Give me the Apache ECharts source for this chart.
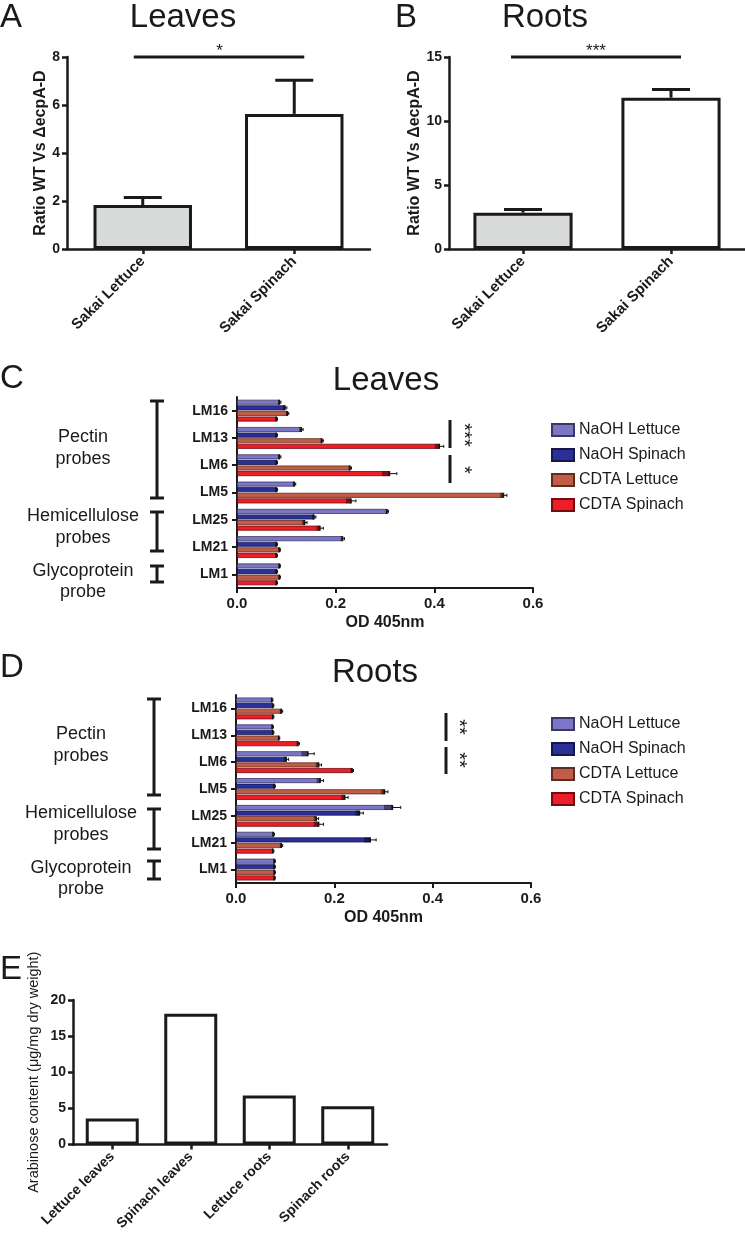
<!DOCTYPE html>
<html>
<head>
<meta charset="utf-8">
<script src="https://cdn.jsdelivr.net/npm/echarts@6/dist/echarts.min.js"></script>
<style>
html,body{margin:0;padding:0;background:#fff;}
#main{width:745px;height:1233px;}
</style>
</head>
<body>
<div id="main"></div>
<script>
// ---------- DATA ----------
const strainCats = ['Sakai Lettuce', 'Sakai Spinach'];
const leavesRatio = [1.83, 5.63];
const leavesRatioErr = [0.32, 1.40];
const rootsRatio = [2.84, 11.82];
const rootsRatioErr = [0.24, 0.64];

const probes = ['LM16', 'LM13', 'LM6', 'LM5', 'LM25', 'LM21', 'LM1'];
const extractNames = ['NaOH Lettuce', 'NaOH Spinach', 'CDTA Lettuce', 'CDTA Spinach'];

const leavesNaOHLettuce = [0.086, 0.130, 0.086, 0.116, 0.304, 0.214, 0.086];
const leavesNaOHSpinach = [0.097, 0.080, 0.080, 0.080, 0.156, 0.080, 0.080];
const leavesCDTALettuce = [0.102, 0.172, 0.229, 0.540, 0.137, 0.086, 0.086];
const leavesCDTASpinach = [0.080, 0.410, 0.309, 0.231, 0.168, 0.080, 0.080];
const leavesNaOHLettuceErr = [0.003, 0.004, 0.003, 0.003, 0.003, 0.004, 0.002];
const leavesNaOHSpinachErr = [0.004, 0.002, 0.002, 0.002, 0.004, 0.002, 0.002];
const leavesCDTALettuceErr = [0.003, 0.003, 0.003, 0.007, 0.005, 0.002, 0.002];
const leavesCDTASpinachErr = [0.002, 0.009, 0.015, 0.010, 0.007, 0.002, 0.002];

const rootsNaOHLettuce = [0.073, 0.074, 0.146, 0.171, 0.318, 0.076, 0.078];
const rootsNaOHSpinach = [0.075, 0.075, 0.102, 0.078, 0.251, 0.273, 0.078];
const rootsCDTALettuce = [0.092, 0.087, 0.168, 0.302, 0.163, 0.092, 0.078];
const rootsCDTASpinach = [0.075, 0.126, 0.236, 0.221, 0.168, 0.075, 0.078];
const rootsNaOHLettuceErr = [0.002, 0.002, 0.013, 0.007, 0.017, 0.002, 0.002];
const rootsNaOHSpinachErr = [0.002, 0.002, 0.005, 0.002, 0.008, 0.012, 0.002];
const rootsCDTALettuceErr = [0.003, 0.002, 0.006, 0.007, 0.005, 0.003, 0.002];
const rootsCDTASpinachErr = [0.002, 0.003, 0.003, 0.007, 0.010, 0.002, 0.002];

const tissueCats = ['Lettuce leaves', 'Spinach leaves', 'Lettuce roots', 'Spinach roots'];
const arabinose = [3.6, 18.08, 6.77, 5.29];

const odTicks = ['0.0', '0.2', '0.4', '0.6'];

// ---------- STYLE ----------
const FONT = "'Liberation Sans', Arial, Helvetica, sans-serif";
const INK = '#1a1a1a';
const extractColors = ['#7b77c6', '#2b2f98', '#c15d47', '#ee1d26'];
const extractBorders = ['#3b3963', '#15174a', '#5e2c22', '#6e0e12'];
const BARW = 5, GAPPCT = 0.12;

const chart = echarts.init(document.getElementById('main'), null, {renderer: 'canvas'});

function axisLine(w) { return {show: true, lineStyle: {color: INK, width: w}}; }
function axisTick(w) { return {show: true, length: 5, lineStyle: {color: INK, width: w}, alignWithLabel: true}; }
const boldLbl = (s) => ({color: INK, fontFamily: FONT, fontWeight: 'bold', fontSize: s});

function vErrRender(params, api) {
  const cat = api.value(0), v = api.value(1), e = api.value(2);
  const top = api.coord([cat, v]);
  const hi = api.coord([cat, v + e]);
  const half = 19;
  return {type: 'group', children: [
    {type: 'line', shape: {x1: top[0], y1: top[1], x2: hi[0], y2: hi[1]}, style: {stroke: INK, lineWidth: 3}},
    {type: 'line', shape: {x1: hi[0] - half, y1: hi[1], x2: hi[0] + half, y2: hi[1]}, style: {stroke: INK, lineWidth: 3}}
  ]};
}

function hErrRender(params, api) {
  const cat = api.value(0), si = api.value(1), v = api.value(2), e = api.value(3);
  const gap = BARW * GAPPCT;
  const n = 4;
  const total = n * BARW + (n - 1) * gap;
  const c = api.coord([v, cat]);
  const lo = api.coord([v - e, cat]);
  const hi = api.coord([v + e, cat]);
  const top = c[1] - total / 2 + si * (BARW + gap);
  const yc = top + BARW / 2;
  return {type: 'group', children: [
    {type: 'rect', shape: {x: lo[0], y: top, width: c[0] - lo[0], height: BARW}, style: {fill: 'rgba(0,0,0,0.45)'}},
    {type: 'line', shape: {x1: c[0], y1: yc, x2: hi[0], y2: yc}, style: {stroke: '#111', lineWidth: 1}},
    {type: 'line', shape: {x1: hi[0], y1: yc - 1.5, x2: hi[0], y2: yc + 1.5}, style: {stroke: '#111', lineWidth: 1}},
    {type: 'line', shape: {x1: c[0], y1: top, x2: c[0], y2: top + BARW}, style: {stroke: '#111', lineWidth: 1.6}}
  ]};
}

function errRows(valsList, errsList) {
  const rows = [];
  valsList.forEach((vals, s) => vals.forEach((v, c) => rows.push([c, s, v, errsList[s][c]])));
  return rows;
}

const leavesVals = [leavesNaOHLettuce, leavesNaOHSpinach, leavesCDTALettuce, leavesCDTASpinach];
const leavesErrs = [leavesNaOHLettuceErr, leavesNaOHSpinachErr, leavesCDTALettuceErr, leavesCDTASpinachErr];
const rootsVals = [rootsNaOHLettuce, rootsNaOHSpinach, rootsCDTALettuce, rootsCDTASpinach];
const rootsErrs = [rootsNaOHLettuceErr, rootsNaOHSpinachErr, rootsCDTALettuceErr, rootsCDTASpinachErr];

function hbarSeries(valsList, axisIdx) {
  return valsList.map((vals, s) => ({
    type: 'bar', name: extractNames[s], xAxisIndex: axisIdx, yAxisIndex: axisIdx,
    data: vals, barWidth: BARW, barGap: (GAPPCT * 100) + '%',
    itemStyle: {color: extractColors[s], borderColor: extractBorders[s], borderWidth: 0.8},
    silent: true
  }));
}

const strainFill = ['#d9dbdb', '#ffffff'];

const option = {
  animation: false,
  backgroundColor: '#fff',
  textStyle: {fontFamily: FONT},
  grid: [
    {left: 67, top: 57, width: 303, height: 192},
    {left: 449, top: 57, width: 296, height: 192},
    {left: 237, top: 397, width: 296, height: 191},
    {left: 236, top: 695, width: 295, height: 188},
    {left: 73, top: 1000, width: 314, height: 157}
  ],
  legend: [
    {data: extractNames, left: 546, top: 417, orient: 'vertical', icon: 'rect', itemWidth: 22, itemHeight: 12, itemGap: 9,
     textStyle: {fontFamily: FONT, fontSize: 16, color: INK}, selectedMode: false},
    {data: extractNames, left: 546, top: 711, orient: 'vertical', icon: 'rect', itemWidth: 22, itemHeight: 12, itemGap: 9,
     textStyle: {fontFamily: FONT, fontSize: 16, color: INK}, selectedMode: false}
  ],
  xAxis: [
    {type: 'category', gridIndex: 0, data: strainCats, axisLine: axisLine(2.5), axisTick: axisTick(2.5),
     axisLabel: Object.assign(boldLbl(15), {rotate: 45, margin: 10, interval: 0})},
    {type: 'category', gridIndex: 1, data: strainCats, axisLine: axisLine(2.5), axisTick: axisTick(2.5),
     axisLabel: Object.assign(boldLbl(15), {rotate: 45, margin: 10, interval: 0})},
    {type: 'value', gridIndex: 2, min: 0, max: 0.6, interval: 0.2, splitLine: {show: false},
     axisLine: axisLine(2), axisTick: {show: true, length: 5, lineStyle: {color: INK, width: 2}},
     axisLabel: Object.assign(boldLbl(15), {margin: 8, formatter: (v) => odTicks[Math.round(v / 0.2)]}),
     name: 'OD 405nm', nameLocation: 'middle', nameGap: 27, nameTextStyle: boldLbl(16)},
    {type: 'value', gridIndex: 3, min: 0, max: 0.6, interval: 0.2, splitLine: {show: false},
     axisLine: axisLine(2), axisTick: {show: true, length: 5, lineStyle: {color: INK, width: 2}},
     axisLabel: Object.assign(boldLbl(15), {margin: 8, formatter: (v) => odTicks[Math.round(v / 0.2)]}),
     name: 'OD 405nm', nameLocation: 'middle', nameGap: 27, nameTextStyle: boldLbl(16)},
    {type: 'category', gridIndex: 4, data: tissueCats, axisLine: axisLine(2.5), axisTick: axisTick(2.5),
     axisLabel: Object.assign(boldLbl(14), {rotate: 45, margin: 10, interval: 0})}
  ],
  yAxis: [
    {type: 'value', gridIndex: 0, min: 0, max: 8, interval: 2, splitLine: {show: false},
     axisLine: axisLine(2.5), axisTick: {show: true, length: 5, lineStyle: {color: INK, width: 2.5}},
     axisLabel: Object.assign(boldLbl(14), {margin: 7}),
     name: 'Ratio WT Vs \u0394ecpA-D', nameLocation: 'middle', nameGap: 14, nameTextStyle: boldLbl(16)},
    {type: 'value', gridIndex: 1, min: 0, max: 15, interval: 5, splitLine: {show: false},
     axisLine: axisLine(2.5), axisTick: {show: true, length: 5, lineStyle: {color: INK, width: 2.5}},
     axisLabel: Object.assign(boldLbl(14), {margin: 7}),
     name: 'Ratio WT Vs \u0394ecpA-D', nameLocation: 'middle', nameGap: 21, nameTextStyle: boldLbl(16)},
    {type: 'category', gridIndex: 2, data: probes, inverse: true, axisLine: axisLine(2), axisTick: axisTick(2),
     axisLabel: Object.assign(boldLbl(14), {margin: 9, interval: 0})},
    {type: 'category', gridIndex: 3, data: probes, inverse: true, axisLine: axisLine(2), axisTick: axisTick(2),
     axisLabel: Object.assign(boldLbl(14), {margin: 9, interval: 0})},
    {type: 'value', gridIndex: 4, min: 0, max: 20, interval: 5, splitLine: {show: false},
     axisLine: axisLine(2.5), axisTick: {show: true, length: 5, lineStyle: {color: INK, width: 2.5}},
     axisLabel: Object.assign(boldLbl(14), {margin: 7}),
     name: 'Arabinose content (\u03bcg/mg dry weight)', nameLocation: 'middle', nameGap: 32,
     nameTextStyle: {fontFamily: FONT, fontSize: 14.5, color: INK}}
  ],
  series: [
    {type: 'bar', xAxisIndex: 0, yAxisIndex: 0, barWidth: '65%', silent: true,
     data: leavesRatio.map((v, i) => ({value: v, itemStyle: {color: strainFill[i]}})),
     itemStyle: {borderColor: INK, borderWidth: 3}},
    {type: 'custom', xAxisIndex: 0, yAxisIndex: 0, renderItem: vErrRender, silent: true, z: 5,
     data: leavesRatio.map((v, i) => [i, v, leavesRatioErr[i]])},
    {type: 'bar', xAxisIndex: 1, yAxisIndex: 1, barWidth: '67%', silent: true,
     data: rootsRatio.map((v, i) => ({value: v, itemStyle: {color: strainFill[i]}})),
     itemStyle: {borderColor: INK, borderWidth: 3}},
    {type: 'custom', xAxisIndex: 1, yAxisIndex: 1, renderItem: vErrRender, silent: true, z: 5,
     data: rootsRatio.map((v, i) => [i, v, rootsRatioErr[i]])},
    ...hbarSeries(leavesVals, 2),
    {type: 'custom', xAxisIndex: 2, yAxisIndex: 2, renderItem: hErrRender, silent: true, z: 5,
     data: errRows(leavesVals, leavesErrs)},
    ...hbarSeries(rootsVals, 3),
    {type: 'custom', xAxisIndex: 3, yAxisIndex: 3, renderItem: hErrRender, silent: true, z: 5,
     data: errRows(rootsVals, rootsErrs)},
    {type: 'bar', xAxisIndex: 4, yAxisIndex: 4, barWidth: '67.5%', silent: true, data: arabinose,
     itemStyle: {color: '#fff', borderColor: INK, borderWidth: 3}}
  ]
};

chart.setOption(option);

// ---------- ANNOTATIONS ----------
const g = [];
function txt(x, y, s, size, opts) {
  g.push(Object.assign({type: 'text', x: x, y: y, silent: true, z: 10,
    style: Object.assign({text: s, fontFamily: FONT, fontSize: size, fill: INK, align: 'center', verticalAlign: 'middle'}, opts && opts.style || {})},
    opts && opts.el || {}));
}
function line(x1, y1, x2, y2, w) {
  g.push({type: 'line', silent: true, z: 10, shape: {x1: x1, y1: y1, x2: x2, y2: y2}, style: {stroke: INK, lineWidth: w || 3}});
}
function bracket(x, y1, y2, cap) {
  line(x, y1, x, y2, 3);
  line(x - cap / 2, y1, x + cap / 2, y1, 3);
  line(x - cap / 2, y2, x + cap / 2, y2, 3);
}

// panel letters and titles
txt(0, 18, 'A', 33, {style: {align: 'left'}});
txt(183, 18, 'Leaves', 33);
txt(395, 18, 'B', 33, {style: {align: 'left'}});
txt(545, 18, 'Roots', 33);
txt(0, 379, 'C', 33, {style: {align: 'left'}});
txt(386, 381, 'Leaves', 33);
txt(0, 668, 'D', 33, {style: {align: 'left'}});
txt(375, 673, 'Roots', 33);
txt(0, 970, 'E', 33, {style: {align: 'left'}});

// significance bars A / B (placed on the data scale)
const pA0 = chart.convertToPixel({gridIndex: 0}, [0, 8]);
const pA1 = chart.convertToPixel({gridIndex: 0}, [1, 8]);
line(pA0[0] - 9, pA0[1], pA1[0] + 10, pA1[1], 3);
txt((pA0[0] + pA1[0]) / 2 + 1, pA0[1] - 6, '*', 17);
const pB0 = chart.convertToPixel({gridIndex: 1}, [0, 15]);
const pB1 = chart.convertToPixel({gridIndex: 1}, [1, 15]);
line(pB0[0] - 12, pB0[1], pB1[0] + 10, pB1[1], 3);
txt((pB0[0] + pB1[0]) / 2 - 1, pB0[1] - 6, '***', 17);

// left group brackets C
[['Pectin', 'probes', 437, 459, 401, 498], ['Hemicellulose', 'probes', 516, 538, 512, 551], ['Glycoprotein', 'probe', 571, 592, 566, 582]]
  .forEach(r => { txt(83, r[2], r[0], 18); txt(83, r[3], r[1], 18); bracket(157, r[4], r[5], 14); });
// left group brackets D
[['Pectin', 'probes', 734, 756, 699, 795], ['Hemicellulose', 'probes', 813, 835, 809, 849], ['Glycoprotein', 'probe', 868, 889, 861, 879]]
  .forEach(r => { txt(81, r[2], r[0], 18); txt(81, r[3], r[1], 18); bracket(154, r[4], r[5], 14); });

// significance C
line(450, 420, 450, 448, 3);
line(450, 455, 450, 483, 3);
txt(464, 435, '***', 20, {el: {rotation: -Math.PI / 2}});
txt(464, 470, '*', 20, {el: {rotation: -Math.PI / 2}});
// significance D
line(446, 713, 446, 741, 3);
line(446, 747, 446, 774, 3);
txt(459, 727, '**', 20, {el: {rotation: -Math.PI / 2}});
txt(459, 760, '**', 20, {el: {rotation: -Math.PI / 2}});

chart.setOption({graphic: g});
</script>
</body>
</html>
